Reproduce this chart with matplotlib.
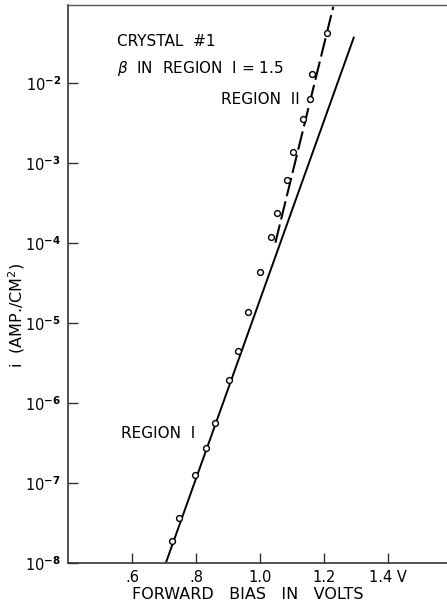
import matplotlib
matplotlib.use("Agg")
import matplotlib.pyplot as plt
from matplotlib.ticker import FixedLocator, FixedFormatter

# Measured forward current density vs. forward bias (crystal #1)
bias_v = [0.724, 0.748, 0.798, 0.830, 0.860, 0.902, 0.930, 0.962, 1.001,
          1.034, 1.052, 1.085, 1.104, 1.133, 1.156, 1.163, 1.208]
log_current = [-7.73, -7.44, -6.90, -6.56, -6.25, -5.71, -5.35, -4.87, -4.37,
               -3.93, -3.63, -3.22, -2.87, -2.45, -2.20, -1.89, -1.38]
current = [10 ** v for v in log_current]

# Straight-line fits: region I (solid) and region II (dashed)
region1_v = [0.706, 1.294]
region1_i = [1e-8, 10 ** -1.425]
region2_v = [1.048, 1.229]
region2_i = [1e-4, 10 ** -1.05]

x_ticks = [0.6, 0.8, 1.0, 1.2, 1.4]
x_tick_labels = [".6", ".8", "1.0", "1.2", "1.4 V"]
y_exponents = [-8, -7, -6, -5, -4, -3, -2]

plt.rcParams["font.family"] = ["DejaVu Sans"]

FIG_W, FIG_H = 447, 604
fig = plt.figure(figsize=(FIG_W / 100, FIG_H / 100), dpi=100)
ax = fig.add_axes([68 / FIG_W, 41.3 / FIG_H, 379 / FIG_W, 557.2 / FIG_H])

ax.set_yscale("log")
ax.set_xlim(0.4, 0.4 + 379 / 320)
ax.set_ylim(1e-8, 10 ** -1.035)

ax.plot(region1_v, region1_i, color="black", lw=1.4, solid_capstyle="butt")
ax.plot(region2_v, region2_i, color="black", lw=1.5, dashes=(9, 2.5))
ax.plot(bias_v, current, linestyle="none", marker="o", markersize=4.2,
        markerfacecolor="white", markeredgecolor="black", markeredgewidth=1.0)

ax.xaxis.set_major_locator(FixedLocator(x_ticks))
ax.xaxis.set_major_formatter(FixedFormatter(x_tick_labels))
ax.xaxis.set_minor_locator(FixedLocator([]))
y_ticks = [10.0 ** e for e in y_exponents]
ax.yaxis.set_major_locator(FixedLocator(y_ticks))
ax.yaxis.set_major_formatter(FixedFormatter([r"$10^{\mathbf{%d}}$" % e for e in y_exponents]))
ax.yaxis.set_minor_locator(FixedLocator([]))

ax.tick_params(axis="both", direction="in", length=7, width=1.0, color="#333333")
ax.tick_params(axis="x", pad=5, labelsize=10.5)
ax.tick_params(axis="y", pad=5, labelsize=10.5)

for side in ("left", "bottom"):
    ax.spines[side].set_linewidth(1.2)
    ax.spines[side].set_color("#333333")
ax.spines["right"].set_visible(False)
ax.spines["top"].set_linewidth(1.0)
ax.spines["top"].set_color("#555555")

ax.set_xlabel("FORWARD   BIAS   IN   VOLTS", fontsize=11.5)
ax.xaxis.set_label_coords((248 - 68) / 379, -(587 - 562.7) / 557.2)
ax.set_ylabel("i  (AMP./CM$^2$)", fontsize=11.5)
ax.yaxis.set_label_coords((27 - 68) / 379, (562.7 - 315) / 557.2)


def fig_text(x_px, y_px, s, size=11):
    fig.text(x_px / FIG_W, 1 - y_px / FIG_H, s, va="center", ha="left",
             fontsize=size)


fig_text(117, 41, "CRYSTAL  #1")
fig_text(117, 68, r"$\beta$  IN  REGION  I = 1.5")
fig_text(221, 100, "REGION  II")
fig_text(121, 434, "REGION  I")

fig.savefig("out.png", dpi=100, facecolor="white")
